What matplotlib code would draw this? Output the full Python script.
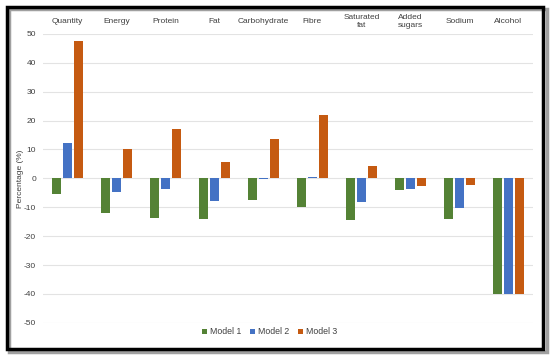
import numpy as np
import matplotlib.pyplot as plt
from matplotlib.patches import Rectangle

# Data
categories = ['Quantity', 'Energy', 'Protein', 'Fat', 'Carbohydrate', 'Fibre',
              'Saturated\nfat', 'Added\nsugars', 'Sodium', 'Alcohol']
model1 = [-5.3, -12.0, -13.8, -14.2, -7.5, -10.0, -14.3, -4.2, -14.1, -40.0]
model2 = [12.4, -4.8, -3.6, -7.7, -0.3, 0.5, -8.3, -3.7, -10.1, -40.0]
model3 = [47.5, 10.0, 17.0, 5.8, 13.5, 21.8, 4.2, -2.6, -2.4, -40.0]
yticks = [50, 40, 30, 20, 10, 0, -10, -20, -30, -40, -50]

colors = ['#548235', '#4472C4', '#C55A11']
labels = ['Model 1', 'Model 2', 'Model 3']

plt.rcParams['font.family'] = ['Liberation Sans', 'DejaVu Sans']
plt.rcParams['axes.unicode_minus'] = False

fig = plt.figure(figsize=(5.5, 3.56), dpi=100)
ax = fig.add_axes([0.078, 0.093, 0.891, 0.812])

x = np.arange(len(categories))
step = 0.225
width = 0.175
for i, (vals, c, lab) in enumerate(zip([model1, model2, model3], colors, labels)):
    ax.bar(x + (i - 1) * step, vals, width, color=c, label=lab, zorder=3)

ax.set_xlim(-0.5, len(categories) - 0.5)
ax.set_ylim(-50, 50)
ax.set_yticks(yticks)
ax.tick_params(axis='y', length=0, labelsize=6, colors='#404040', pad=5)
ax.yaxis.grid(True, color='#E3E3E3', linewidth=0.8, zorder=0)
for s in ax.spines.values():
    s.set_visible(False)

# category labels on top
ax.xaxis.tick_top()
ax.set_xticks(x)
ax.set_xticklabels(categories, fontsize=6, color='#404040', linespacing=1.1)
ax.tick_params(axis='x', length=0, pad=9)
for t in ax.get_xticklabels():
    t.set_verticalalignment('center')

ax.set_ylabel('Percentage (%)', fontsize=6, color='#404040')
ax.yaxis.set_label_coords(-0.039, 0.5)

leg = fig.legend(loc='lower center', bbox_to_anchor=(0.49, 0.033), ncol=3, frameon=False,
                 fontsize=6.3, handlelength=0.6, handleheight=0.6, handletextpad=0.3,
                 columnspacing=1.0)
for t in leg.get_texts():
    t.set_color('#404040')

# border with shadow
fig.patches.append(Rectangle((0.017, 0.011), 0.978, 0.965, transform=fig.transFigure,
                             facecolor='none', edgecolor='#A0A0A0', linewidth=2.5, zorder=-1))
fig.patches.append(Rectangle((0.013, 0.02), 0.975, 0.96, transform=fig.transFigure,
                             facecolor='none', edgecolor='black', linewidth=2.5))

fig.savefig('out.png', dpi=100)
